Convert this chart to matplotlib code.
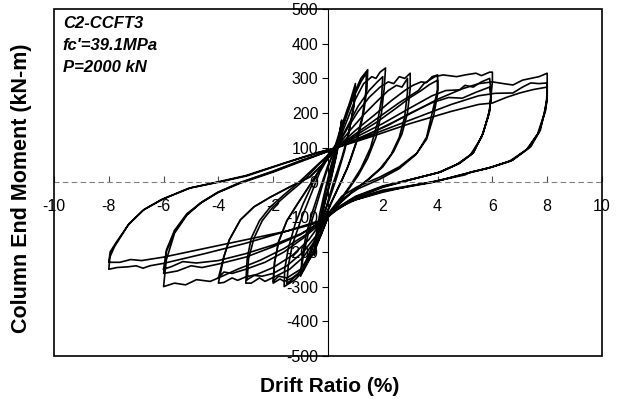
import numpy as np
import matplotlib
matplotlib.use("Agg")
import matplotlib.pyplot as plt
from matplotlib.patches import Rectangle

plt.rcParams['font.family'] = ['Liberation Sans', 'DejaVu Sans']
plt.rcParams['axes.unicode_minus'] = False

#%% Data (drift %, moment kN-m), one array pair per amplitude
drift_05 = [0, 0.2, 0.4, 0.5, 0.45, 0.3, 0.1, -0.1, -0.3, -0.5, -0.45, -0.3, -0.1, 0.1,
            0.3, 0.5, 0.45, 0.3, 0.1, -0.1, -0.3, -0.5]
moment_05 = [0, 60, 130, 180, 140, 80, 10, -50, -120, -210, -160, -90, -20, 45,
             100, 175, 135, 75, 5, -55, -125, -205]

drift_10 = [-0.5, -0.4, -0.2, 0.1, 0.3, 0.6, 0.85, 1.0, 0.95, 0.8, 0.6, 0.3, 0.0, -0.2,
            -0.5, -0.8, -1.0, -0.95, -0.8, -0.55, -0.3, 0.0, 0.3, 0.6, 0.85, 1.0, 0.95,
            0.75, 0.5, 0.2, -0.1, -0.4, -0.7, -1.0]
moment_10 = [-205, -150, -70, 40, 100, 180, 245, 285, 230, 160, 90, 10, -60, -100,
             -170, -235, -270, -220, -150, -80, -20, 50, 100, 175, 235, 270, 220,
             140, 70, 0, -80, -150, -220, -265]

drift_15 = [-1.0, -0.9, -0.7, -0.4, -0.1, 0.2, 0.4, 0.7, 1.0, 1.2, 1.45, 1.42, 1.3, 1.1,
            0.8, 0.5, 0.2, -0.1, -0.3, -0.6, -0.9, -1.2, -1.4, -1.6, -1.58, -1.45, -1.2,
            -0.9, -0.6, -0.3, 0.0, 0.3, 0.6, 0.9, 1.2, 1.4, 1.38, 1.25, 1.0, 0.7, 0.4,
            0.1, -0.2, -0.5, -0.8, -1.1, -1.4, -1.5]
moment_15 = [-265, -210, -140, -60, 20, 90, 140, 210, 265, 300, 325, 270, 200, 130,
             60, 5, -45, -100, -150, -210, -255, -280, -290, -300, -250, -190, -120,
             -60, -10, 40, 80, 110, 175, 240, 290, 315, 260, 190, 110, 40, -10,
             -60, -110, -170, -225, -265, -285, -290]

drift_20 = [-1.5, -1.45, -1.3, -1.0, -0.7, -0.3, 0.1, 0.4, 0.7, 1.0, 1.3, 1.6, 1.75, 1.9,
            2.1, 2.05, 1.95, 1.75, 1.45, 1.1, 0.7, 0.3, 0.0, -0.2, -0.5, -0.9, -1.3,
            -1.6, -1.75, -2.0, -1.95, -1.8, -1.5, -1.1, -0.6, -0.2, 0.3, 0.7, 1.1, 1.5,
            1.8, 2.0, 1.95, 1.8, 1.55, 1.2, 0.8, 0.4, 0.0, -0.25, -0.6, -1.0, -1.5,
            -1.8, -2.0]
moment_20 = [-290, -240, -180, -110, -50, 30, 85, 120, 180, 240, 285, 305, 300, 318,
             330, 270, 200, 130, 70, 20, -25, -65, -100, -140, -200, -250, -275,
             -285, -278, -290, -230, -170, -110, -60, 0, 50, 100, 160, 220, 265,
             290, 305, 240, 170, 100, 40, -10, -55, -100, -150, -210, -250, -275,
             -270, -285]

drift_30 = [-2.0, -1.95, -1.8, -1.5, -1.1, -0.6, -0.2, 0.3, 0.7, 1.1, 1.5, 1.9, 2.2, 2.4,
            2.6, 2.8, 3.0, 3.0, 2.9, 2.7, 2.4, 2.0, 1.5, 1.0, 0.5, 0.1, -0.2, -0.5,
            -0.9, -1.4, -1.9, -2.3, -2.5, -2.8, -3.0, -2.95, -2.8, -2.5, -2.1, -1.6,
            -1.0, -0.4, 0.3, 0.8, 1.3, 1.8, 2.2, 2.5, 2.7, 2.9, 2.9, 2.8, 2.6, 2.3,
            1.9, 1.4, 0.9, 0.4, 0.0, -0.4, -0.9, -1.5, -2.0, -2.4, -2.7, -2.95]
moment_30 = [-285, -230, -170, -110, -60, 0, 50, 100, 155, 205, 245, 275, 290, 285,
             305, 300, 315, 270, 200, 140, 90, 45, 10, -20, -55, -90, -120, -170,
             -215, -250, -270, -285, -275, -290, -290, -220, -160, -110, -70, -35,
             5, 50, 100, 150, 195, 235, 265, 280, 275, 300, 260, 190, 130, 80,
             40, 5, -25, -60, -100, -150, -200, -240, -262, -270, -268, -280]

drift_40 = [-2.95, -2.9, -2.7, -2.4, -2.0, -1.5, -0.9, -0.3, 0.3, 1.0, 1.7, 2.3, 2.8,
            3.1, 3.4, 3.6, 3.8, 4.0, 4.0, 3.8, 3.6, 3.25, 2.6, 1.9, 1.05, 0.5, 0.1,
            -0.2, -0.7, -1.3, -2.0, -2.6, -3.0, -3.3, -3.5, -3.8, -4.0, -3.8, -3.6,
            -3.2, -2.7, -2.1, -1.4, -0.66, -0.1, 0.3, 1.0, 1.8, 2.5, 3.0, 3.4, 3.7,
            4.0, 4.0, 3.85, 3.6, 3.2, 2.6, 1.9, 1.1, 0.5, 0.0, -0.3, -0.9, -1.6,
            -2.3, -3.0, -3.5, -3.8, -4.0]
moment_40 = [-280, -220, -160, -110, -70, -35, 5, 55, 100, 150, 195, 235, 265,
             280, 290, 288, 305, 310, 267, 200, 131, 85, 45, 16, -13, -40, -80,
             -110, -165, -210, -245, -265, -272, -282, -275, -288, -290, -214, -165,
             -108, -70, -42, -13, 16, 60, 100, 135, 175, 215, 245, 265, 282,
             295, 255, 190, 125, 80, 40, 10, -18, -48, -95, -120, -160, -200,
             -230, -250, -262, -258, -275]

drift_60 = [-4.0, -3.8, -3.6, -3.2, -2.7, -2.1, -1.4, -0.66, -0.1, 0.3, 1.0, 1.8, 2.6,
            3.3, 3.5, 3.9, 4.2, 4.7, 5.0, 5.4, 5.6, 5.9, 6.0,
            6.0, 5.95, 5.9, 5.66, 5.3, 4.8, 4.1, 3.25, 2.0, 1.0, 0.3, -0.2, -0.8, -1.6,
            -2.5, -3.3, -4.0, -4.3, -4.8, -5.2, -5.6, -6.0,
            -5.95, -5.9, -5.6, -5.15, -4.67, -4.05, -3.2, -2.0, -1.0, 0.0, 0.3, 1.0,
            2.0, 3.0, 3.8, 4.3, 4.8, 5.0, 5.3, 5.6, 5.9,
            5.95, 5.9, 5.65, 5.3, 4.8, 4.1, 3.2, 2.0, 1.0, 0.3, -0.2, -1.0, -2.0, -3.0,
            -4.0, -4.6, -5.0, -5.5, -6.0,
            -5.95, -5.9, -5.6, -5.15, -4.6, -4.0, -3.2, -2.0, -1.0, 0.0, 0.3, 1.2, 2.2,
            3.0, 3.8, 4.4, 4.9, 5.4, 5.9,
            5.95, 5.85, 5.6, 5.2, 4.7, 4.0, 3.1, 2.0, 1.0, 0.3, -0.2, -1.0, -2.0, -3.0,
            -4.0, -4.8, -5.3, -5.7, -6.0]
moment_60 = [-275, -214, -165, -108, -70, -42, -13, 16, 60, 100, 140, 185, 230,
             265, 285, 305, 310, 305, 310, 315, 308, 318, 318,
             290, 250, 209, 142, 85, 56, 30, 13, -10, -40, -75, -105, -150, -190,
             -225, -250, -275, -285, -280, -295, -290, -300,
             -260, -223, -146, -94, -60, -30, -2, 30, 60, 90, 100, 130,
             170, 215, 250, 265, 267, 280, 275, 290, 300,
             260, 205, 140, 85, 55, 30, 12, -12, -42, -78, -110, -150, -185, -215,
             -235, -245, -240, -255, -262,
             -235, -200, -140, -92, -57, -28, 0, 32, 62, 90, 100, 130, 165,
             200, 230, 245, 243, 260, 275,
             240, 190, 130, 80, 52, 28, 10, -14, -45, -80, -112, -148, -180, -205,
             -225, -232, -228, -242, -250]

drift_80 = [-6.0, -5.95, -5.9, -5.6, -5.15, -4.6, -4.0, -3.2, -2.0, -1.0, 0.0, 0.3, 1.5,
            2.8, 4.0, 4.9, 5.5, 6.0, 6.4, 6.75, 7.1, 7.4, 7.7, 8.0,
            8.0, 8.0, 7.75, 7.4, 6.75, 6.0, 5.1, 3.8, 2.0, 0.8, 0.07, -0.3, -1.5, -3.0,
            -4.5, -6.0, -6.5, -6.75, -7.0, -7.3, -7.7, -8.0,
            -7.96, -7.8, -7.3, -6.75, -6.1, -5.1, -4.05, -2.96, -1.6, -0.4, 0.3, 1.5,
            3.0, 4.5, 5.5, 6.1, 6.75, 7.1, 7.4, 7.7, 8.0,
            8.0, 7.95, 7.7, 7.3, 6.7, 5.9, 5.0, 3.8, 2.0, 0.8, 0.0, -0.3, -1.5, -3.0,
            -4.5, -6.0, -6.8, -7.2, -7.6, -8.0,
            -7.95, -7.75, -7.25, -6.7, -6.0, -5.0, -4.0, -3.0, -1.6, -0.4, 0.3, 1.5,
            3.0, 4.5, 5.5, 6.0, 6.5, 7.0, 7.5, 8.0,
            7.98, 7.9, 7.65, 7.25, 6.6, 5.8, 5.2, 5.0, 4.0, 3.0, 2.0, 1.0, 0.2]
moment_80 = [-250, -225, -195, -138, -90, -56, -27, 0, 33, 63, 90, 100, 140,
             190, 240, 270, 285, 290, 285, 281, 295, 300, 305, 315,
             280, 238, 151, 103, 65, 45, 27, 1, -22, -50, -88, -110, -140, -175,
             -205, -233, -240, -247, -240, -243, -245, -250,
             -215, -186, -123, -80, -50, -17, 0, 19, 55, 85, 100, 135,
             180, 225, 250, 257, 258, 275, 287, 285, 287,
             250, 210, 145, 98, 63, 43, 25, 0, -25, -55, -95, -115, -140, -165,
             -190, -215, -225, -222, -230, -230,
             -200, -175, -118, -77, -47, -15, 2, 20, 56, 86, 100, 130,
             170, 205, 225, 229, 245, 258, 268, 275,
             240, 200, 140, 95, 60, 40, 30, 22, 5, -10, -28, -50, -80]

x_ticks = [-10, -8, -6, -4, -2, 0, 2, 4, 6, 8, 10]
x_labels = ['-10', '-8', '-6', '-4', '-2', '', '2', '4', '6', '8', '10']
y_ticks = [-500, -400, -300, -200, -100, 0, 100, 200, 300, 400, 500]
note_lines = ["C2-CCFT3", "fc'=39.1MPa", "P=2000 kN"]

#%% Plot
fig = plt.figure(figsize=(6.21, 3.99), dpi=100)
ax = fig.add_axes([54/621, 1 - 356/399, 548/621, 347/399])

for d, m in [(drift_05, moment_05), (drift_10, moment_10), (drift_15, moment_15),
             (drift_20, moment_20), (drift_30, moment_30), (drift_40, moment_40),
             (drift_60, moment_60), (drift_80, moment_80)]:
    ax.plot(d, m, color='k', lw=1.2, solid_joinstyle='round')

ax.set_xlim(-10, 10)
ax.set_ylim(-500, 500)

# axes cross at the origin, outer box drawn separately
ax.spines['left'].set_position(('data', 0))
ax.spines['bottom'].set_position(('data', 0))
ax.spines['left'].set_linewidth(0.8)
ax.spines['bottom'].set_color('0.5')
ax.spines['bottom'].set_linestyle((0, (4, 4)))
ax.spines['bottom'].set_linewidth(0.8)
ax.spines['top'].set_visible(False)
ax.spines['right'].set_visible(False)
ax.add_patch(Rectangle((0, 0), 1, 1, transform=ax.transAxes, fill=False,
                       edgecolor='k', lw=1.2, clip_on=False, zorder=5))

ax.set_xticks(x_ticks)
ax.set_xticklabels(x_labels)
ax.set_yticks(y_ticks)
ax.tick_params(axis='x', direction='in', length=4, pad=12, labelsize=11.5, color='0.3')
ax.tick_params(axis='y', direction='out', length=4, pad=3, labelsize=11.5)

for i, s in enumerate(note_lines):
    ax.text(0.016, 0.958 - 0.064 * i, s, transform=ax.transAxes, fontsize=12,
            fontweight='bold', fontstyle='italic', va='center', ha='left')

fig.text(330/621, 1 - 387/399, "Drift Ratio (%)", fontsize=15, fontweight='bold',
         ha='center', va='center')
fig.text(22/621, 1 - 188/399, "Column End Moment (kN-m)", fontsize=15.5,
         fontweight='bold', ha='center', va='center', rotation=90)

plt.savefig('out.png', dpi=100)
